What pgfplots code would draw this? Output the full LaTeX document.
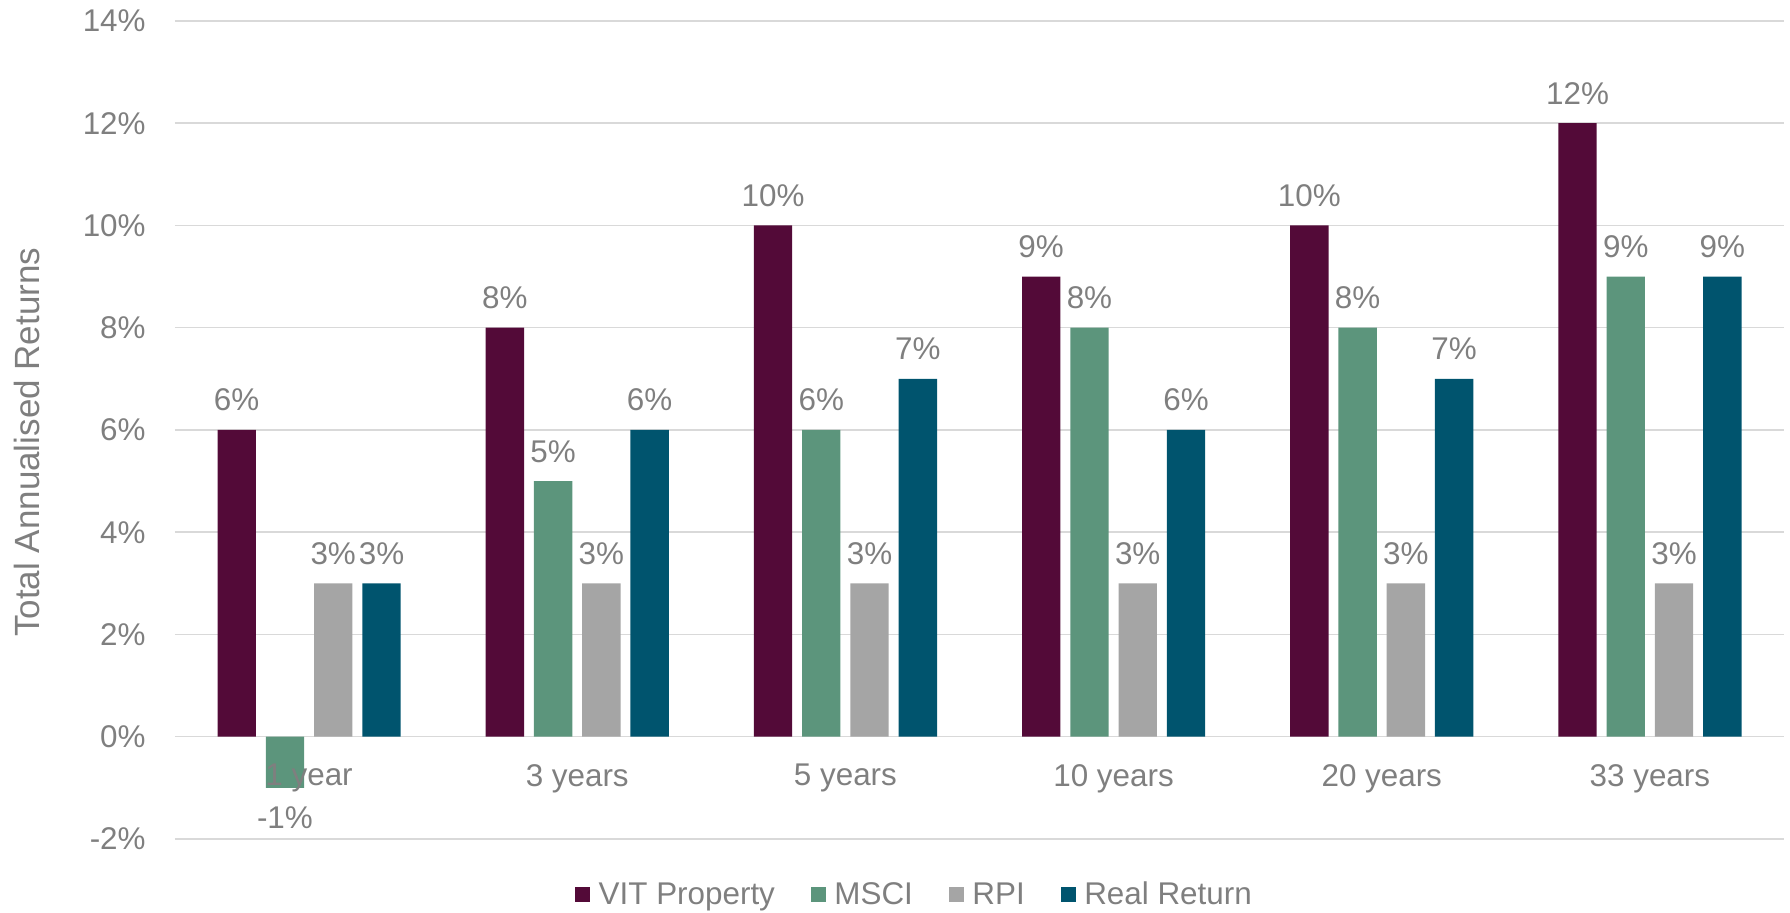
\documentclass[border=0pt]{standalone}
\usepackage{fontspec}
\setmainfont{Liberation Sans}
\usepackage{pgfplots}
\usepackage{pgfplotstable}
\pgfplotsset{compat=1.18}
\definecolor{vit}{HTML}{530A38}
\definecolor{msci}{HTML}{5C957C}
\definecolor{rpi}{HTML}{A5A5A5}
\definecolor{real}{HTML}{00546E}
\definecolor{txt}{HTML}{7F7F7F}
\definecolor{grid}{HTML}{D9D9D9}
\pgfplotstableread{
x vit msci rpi real
0 6 -1 3 3
1 8 5 3 6
2 10 6 3 7
3 9 8 3 6
4 10 8 3 7
5 12 9 3 9
}\data
\newcommand{\lblfont}{\fontsize{15.7}{18}\selectfont}
\newcommand{\ylblfont}{\fontsize{17.5}{20}\selectfont}
\pgfplotsset{
  frame/.style={
    scale only axis,
    width=804.5pt, height=409pt,
    xmin=-0.5, xmax=5.5,
    ymin=-2, ymax=14,
    axis line style={draw=none},
    major tick length=0pt,
    tick label style={font=\lblfont, text=txt},
    /pgf/number format/assume math mode=true,
  },
}
\begin{document}
\begin{tikzpicture}
\begin{axis}[
  frame,
  ytick={-2,0,...,14},
  xtick=\empty,
  yticklabel={\pgfmathprintnumber{\tick}\%},
  ymajorgrids,
  grid style={draw=grid, line width=0.75pt},
  yticklabel style={anchor=east, inner sep=0pt, xshift=-14.5pt},
  every axis y label/.style={at={(rel axis cs:0,0.485)}, xshift=-74pt, rotate=90, anchor=center, font=\ylblfont, text=txt},
  ylabel={Total Annualised Returns},
  ybar, bar width=0.143, bar shift=0pt,
  nodes near coords={\pgfmathprintnumber[fixed,precision=0]{\pgfplotspointmeta}\%},
  every node near coord/.append style={font=\lblfont, text=txt, inner ysep=9.2pt, inner xsep=0pt},
  legend columns=4,
  legend style={at={(rel axis cs:0.459,0)}, anchor=center, yshift=-28pt, draw=none, fill=none,
    font=\lblfont, text=txt,
    nodes={inner xsep=0pt},
    /tikz/every odd column/.append style={column sep=4.25pt},
    /tikz/every even column/.append style={column sep=18pt}},
  legend image code/.code={\fill[#1] (0pt,-3.75pt) rectangle (7.5pt,3.75pt);},
]
\addplot[fill=vit, draw=none] table[x expr=\thisrow{x}-0.27, y=vit] {\data};
\addplot[fill=msci, draw=none] table[x expr=\thisrow{x}-0.09, y=msci] {\data};
\addplot[fill=rpi, draw=none] table[x expr=\thisrow{x}+0.09, y=rpi] {\data};
\addplot[fill=real, draw=none] table[x expr=\thisrow{x}+0.27, y=real] {\data};
\legend{VIT Property, MSCI, RPI, Real Return}
\coordinate (bl) at (rel axis cs:0,0);
\coordinate (tr) at (rel axis cs:1,1);
\end{axis}
\begin{axis}[
  frame,
  ytick=\empty,
  xtick={0,...,5},
  xticklabels={1 year,3 years,5 years,10 years,20 years,33 years},
  xticklabel style={anchor=north, inner sep=0pt, yshift=37.6pt},
]
\end{axis}
\pgfresetboundingbox
\useasboundingbox ([xshift=-87.5pt,yshift=-37pt]bl) rectangle ([xshift=3pt,yshift=10.5pt]tr);
\end{tikzpicture}
\end{document}
